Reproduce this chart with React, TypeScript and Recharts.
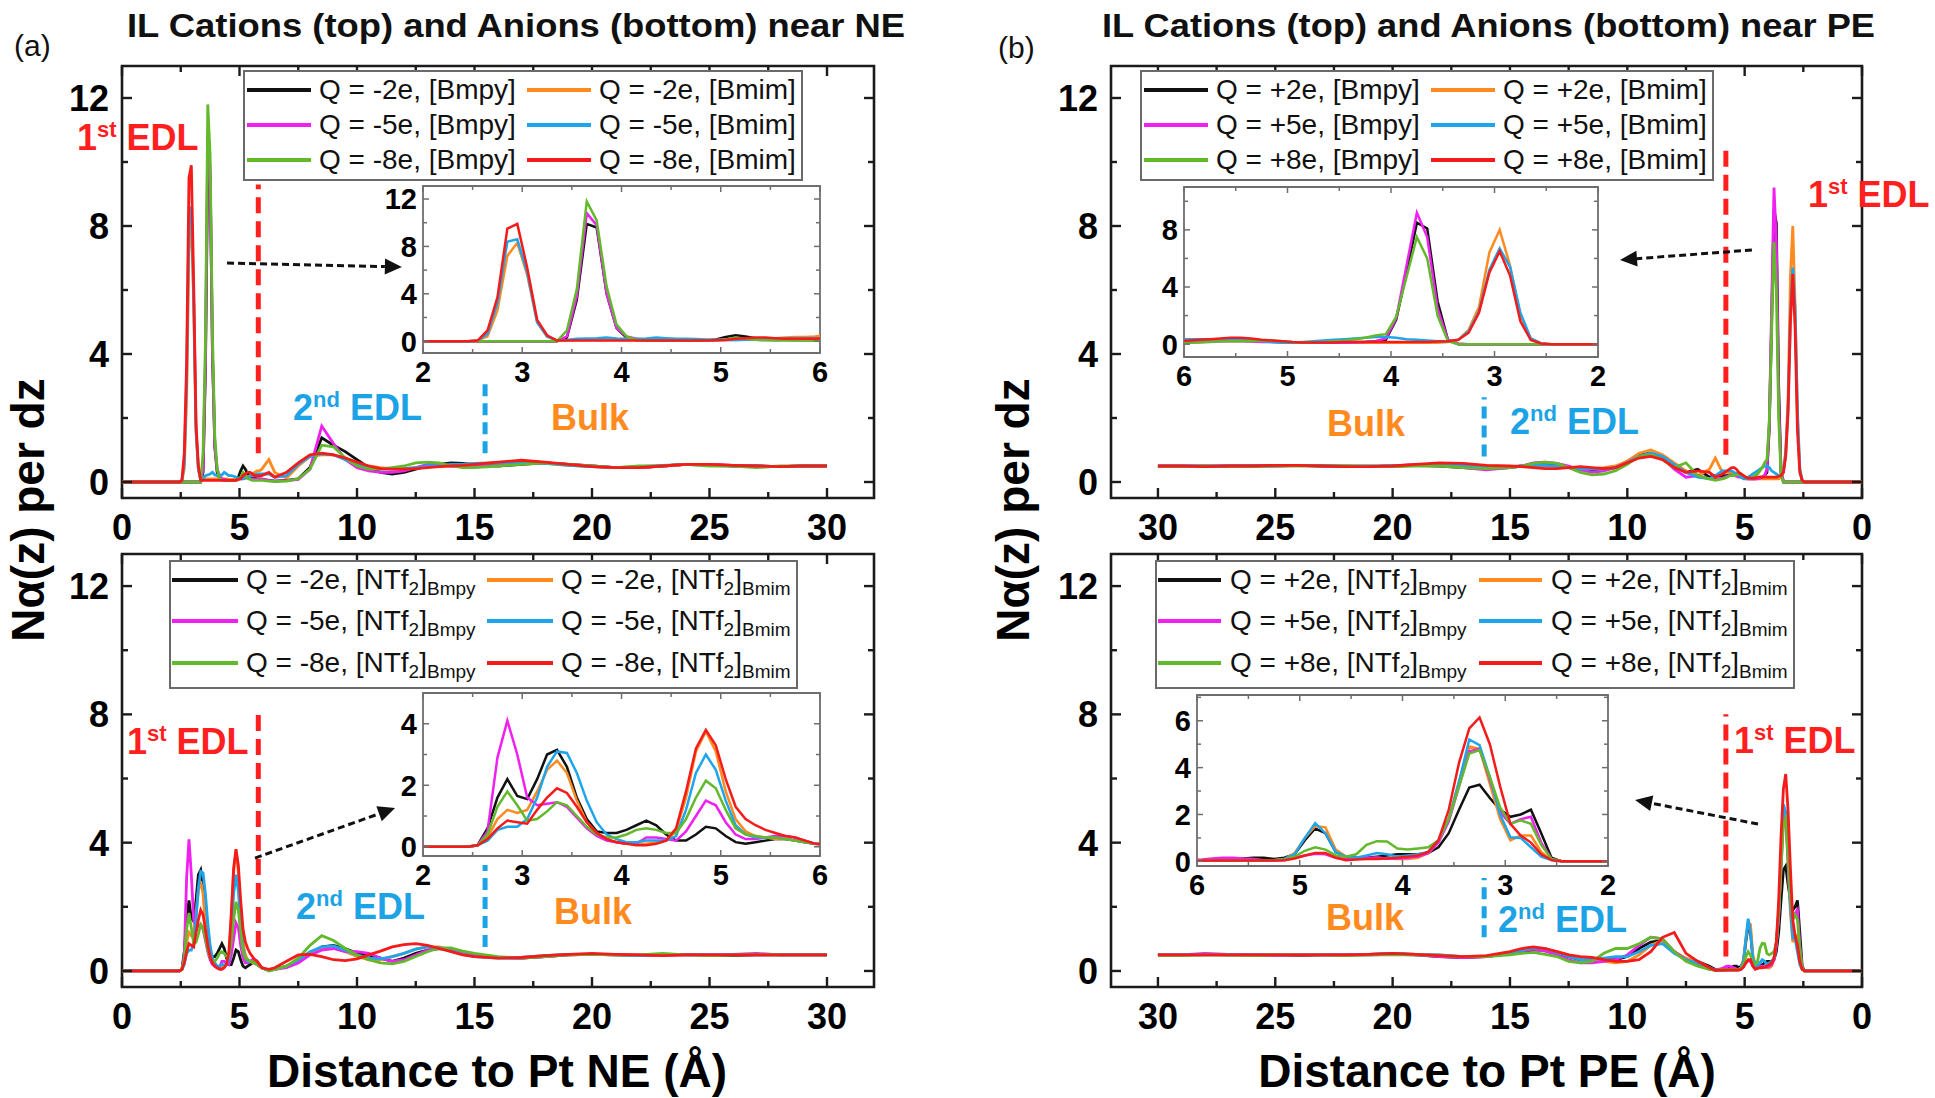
import React from 'react';
import { LineChart, Line, XAxis, YAxis, ReferenceLine, ReferenceArea, Legend } from 'recharts';

const FONT = "'Liberation Sans', Arial, Helvetica, sans-serif";
const COLORS = ['#111111', '#FF8A1F', '#F020F0', '#1EA5EC', '#63B92C', '#F51B1B'];

// distance grid (Å)
const distance = [
  0, 2.45,
  2.55, 2.65, 2.75, 2.85, 2.95,
  3.05, 3.15, 3.25, 3.35, 3.45, 3.55, 3.65, 3.75, 3.85, 3.95,
  4.05, 4.15, 4.25, 4.35, 4.45, 4.55, 4.65, 4.75, 4.85, 4.95,
  5.05, 5.15, 5.25, 5.35, 5.45, 5.55, 5.65, 5.75, 5.85, 5.95,
  6.25, 6.5,
  7, 7.5, 8, 8.5, 9, 9.5, 10, 10.5, 11, 11.5, 12, 12.5, 13, 13.5, 14, 14.5, 15,
  16, 17, 18, 19, 20, 21, 22, 23, 24, 25, 26, 27, 28, 29, 30,
];

// ---------- cations near NE ----------
const neCatBmpy2 = [0, 0,
  0, 0, 0, 0, 0,
  0, 0, 0, 0, 0.3, 3.5, 9.9, 9.6, 4.0, 1.1,
  0.3, 0.1, 0.08, 0.06, 0.05, 0.05, 0.05, 0.05, 0.06, 0.15,
  0.35, 0.5, 0.4, 0.25, 0.2, 0.15, 0.12, 0.1, 0.1, 0.08,
  0.05, 0.03,
  0.05, 0.1, 0.45, 1.38, 1.15, 0.95, 0.7, 0.45, 0.3, 0.25, 0.3, 0.4, 0.5, 0.55, 0.6, 0.58, 0.55,
  0.5, 0.55, 0.6, 0.55, 0.5, 0.45, 0.45, 0.5, 0.55, 0.55, 0.5, 0.5, 0.48, 0.5, 0.5];
const neCatBmim2 = [0, 0,
  0.05, 0.4, 2.6, 7.2, 8.3,
  5.6, 1.6, 0.4, 0.05, 0.08, 0.1, 0.1, 0.1, 0.1, 0.1,
  0.1, 0.1, 0.1, 0.1, 0.1, 0.08, 0.08, 0.08, 0.08, 0.1,
  0.1, 0.1, 0.12, 0.15, 0.2, 0.25, 0.3, 0.35, 0.35, 0.4,
  0.7, 0.3,
  0.12, 0.5, 0.8, 0.85, 0.85, 0.75, 0.6, 0.5, 0.45, 0.42, 0.42, 0.45, 0.48, 0.5, 0.52, 0.55, 0.58,
  0.6, 0.62, 0.58, 0.52, 0.48, 0.45, 0.45, 0.5, 0.55, 0.55, 0.52, 0.5, 0.48, 0.5, 0.5];
const neCatBmpy5 = [0, 0,
  0, 0, 0, 0, 0,
  0, 0, 0, 0, 0.4, 3.8, 10.8, 9.8, 4.0, 1.1,
  0.4, 0.2, 0.1, 0.08, 0.06, 0.05, 0.05, 0.05, 0.06, 0.08,
  0.12, 0.2, 0.15, 0.12, 0.1, 0.1, 0.1, 0.1, 0.1, 0.1,
  0.05, 0.03,
  0.04, 0.08, 0.4, 1.75, 1.2, 0.7, 0.45, 0.35, 0.3, 0.3, 0.35, 0.45, 0.55, 0.55, 0.5, 0.5, 0.5,
  0.52, 0.58, 0.6, 0.55, 0.5, 0.45, 0.45, 0.5, 0.55, 0.55, 0.52, 0.5, 0.48, 0.5, 0.5];
const neCatBmim5 = [0, 0,
  0.05, 0.6, 3.2, 8.4, 8.6,
  5.8, 1.6, 0.4, 0.05, 0.1, 0.2, 0.22, 0.25, 0.3, 0.22,
  0.2, 0.2, 0.22, 0.3, 0.25, 0.2, 0.2, 0.18, 0.15, 0.12,
  0.1, 0.1, 0.12, 0.15, 0.18, 0.2, 0.22, 0.25, 0.25, 0.25,
  0.25, 0.15,
  0.2, 0.55, 0.8, 0.88, 0.85, 0.7, 0.55, 0.45, 0.4, 0.4, 0.42, 0.45, 0.5, 0.52, 0.55, 0.55, 0.58,
  0.6, 0.6, 0.58, 0.52, 0.48, 0.45, 0.48, 0.52, 0.55, 0.52, 0.5, 0.5, 0.48, 0.5, 0.5];
const neCatBmpy8 = [0, 0,
  0, 0, 0, 0, 0,
  0, 0, 0, 0, 0.9, 4.4, 11.8, 10.2, 4.6, 1.4,
  0.4, 0.1, 0.06, 0.05, 0.05, 0.05, 0.05, 0.05, 0.05, 0.08,
  0.15, 0.3, 0.2, 0.12, 0.08, 0.05, 0.05, 0.05, 0.05, 0.05,
  0.03, 0.02,
  0.03, 0.1, 0.4, 1.15, 1.1, 0.75, 0.5, 0.4, 0.4, 0.45, 0.5, 0.6, 0.62, 0.6, 0.5, 0.45, 0.45,
  0.5, 0.55, 0.6, 0.55, 0.5, 0.45, 0.5, 0.5, 0.55, 0.5, 0.5, 0.45, 0.5, 0.5, 0.5];
const neCatBmim8 = [0, 0,
  0.05, 0.9, 3.7, 9.5, 9.9,
  6.2, 1.8, 0.5, 0.05, 0.05, 0.05, 0.05, 0.05, 0.05, 0.05,
  0.05, 0.05, 0.05, 0.05, 0.05, 0.05, 0.05, 0.05, 0.05, 0.08,
  0.1, 0.2, 0.25, 0.3, 0.3, 0.25, 0.2, 0.2, 0.2, 0.2,
  0.3, 0.15,
  0.3, 0.6, 0.85, 0.9, 0.85, 0.75, 0.62, 0.5, 0.42, 0.4, 0.4, 0.42, 0.45, 0.48, 0.5, 0.52, 0.55,
  0.62, 0.68, 0.62, 0.55, 0.48, 0.45, 0.45, 0.5, 0.55, 0.55, 0.52, 0.5, 0.48, 0.5, 0.5];

// ---------- anions near NE ----------
const neAniBmpy2 = [0, 0,
  0.05, 0.6, 1.6, 2.2, 1.65,
  1.55, 2.2, 3.0, 3.15, 2.6, 1.6, 0.9, 0.5, 0.45, 0.45,
  0.55, 0.7, 0.85, 0.7, 0.4, 0.2, 0.2, 0.4, 0.65, 0.6,
  0.35, 0.15, 0.1, 0.15, 0.2, 0.25, 0.25, 0.2, 0.15, 0.1,
  0.02, 0.05,
  0.15, 0.3, 0.55, 0.75, 0.8, 0.7, 0.55, 0.5, 0.4, 0.3, 0.4, 0.55, 0.65, 0.7, 0.65, 0.55, 0.5,
  0.42, 0.4, 0.45, 0.5, 0.52, 0.5, 0.48, 0.5, 0.52, 0.5, 0.48, 0.5, 0.5, 0.5, 0.5];
const neAniBmim2 = [0, 0,
  0.05, 0.3, 0.9, 1.2, 1.1,
  1.2, 1.8, 2.5, 2.8, 2.4, 1.5, 0.8, 0.45, 0.25, 0.15,
  0.1, 0.1, 0.1, 0.15, 0.2, 0.5, 1.6, 3.1, 3.75, 3.1,
  1.8, 0.9, 0.5, 0.35, 0.3, 0.25, 0.25, 0.2, 0.15, 0.1,
  0.02, 0.05,
  0.15, 0.35, 0.55, 0.7, 0.72, 0.6, 0.45, 0.35, 0.35, 0.45, 0.55, 0.68, 0.75, 0.75, 0.65, 0.55, 0.48,
  0.42, 0.42, 0.48, 0.52, 0.52, 0.5, 0.48, 0.5, 0.5, 0.5, 0.5, 0.5, 0.5, 0.5, 0.5];
const neAniBmpy5 = [0, 0,
  0.05, 0.5, 2.9, 4.1, 3.0,
  1.6, 1.35, 1.4, 1.45, 1.3, 0.95, 0.6, 0.35, 0.2, 0.15,
  0.1, 0.1, 0.3, 0.3, 0.25, 0.2, 0.5, 1.0, 1.5, 1.35,
  0.8, 0.4, 0.25, 0.25, 0.3, 0.35, 0.35, 0.3, 0.2, 0.1,
  0.02, 0.05,
  0.1, 0.25, 0.5, 0.65, 0.7, 0.6, 0.6, 0.55, 0.4, 0.3, 0.35, 0.5, 0.65, 0.72, 0.68, 0.6, 0.5,
  0.42, 0.4, 0.45, 0.5, 0.52, 0.52, 0.5, 0.5, 0.5, 0.5, 0.52, 0.55, 0.5, 0.5, 0.5];
const neAniBmim5 = [0, 0,
  0.05, 0.2, 0.55, 0.65, 0.65,
  0.9, 1.6, 2.6, 3.1, 3.05, 2.4, 1.5, 0.8, 0.4, 0.25,
  0.15, 0.15, 0.2, 0.2, 0.2, 0.35, 1.2, 2.4, 3.0, 2.5,
  1.5, 0.7, 0.4, 0.3, 0.3, 0.3, 0.25, 0.2, 0.15, 0.1,
  0.02, 0.05,
  0.15, 0.35, 0.6, 0.75, 0.78, 0.65, 0.5, 0.4, 0.38, 0.45, 0.55, 0.68, 0.75, 0.72, 0.62, 0.52, 0.45,
  0.4, 0.42, 0.48, 0.52, 0.52, 0.5, 0.48, 0.5, 0.5, 0.5, 0.5, 0.5, 0.5, 0.5, 0.5];
const neAniBmpy8 = [0, 0,
  0.05, 0.4, 1.3, 1.8, 1.35,
  0.85, 0.9, 1.15, 1.45, 1.35, 1.0, 0.65, 0.4, 0.3, 0.3,
  0.4, 0.55, 0.6, 0.55, 0.45, 0.45, 0.9, 1.6, 2.15, 1.9,
  1.2, 0.6, 0.4, 0.35, 0.3, 0.3, 0.25, 0.2, 0.15, 0.1,
  0.0, 0.05,
  0.15, 0.4, 0.8, 1.1, 0.95, 0.7, 0.5, 0.35, 0.25, 0.22, 0.3, 0.45, 0.6, 0.72, 0.72, 0.62, 0.55,
  0.45, 0.4, 0.45, 0.5, 0.52, 0.5, 0.5, 0.55, 0.5, 0.48, 0.5, 0.52, 0.5, 0.5, 0.5];
const neAniBmim8 = [0, 0,
  0.05, 0.25, 0.6, 0.85, 0.8,
  0.75, 1.2, 1.6, 1.9, 1.75, 1.3, 0.8, 0.45, 0.25, 0.15,
  0.1, 0.05, 0.05, 0.1, 0.2, 0.6, 1.8, 3.2, 3.8, 3.3,
  2.2, 1.3, 0.9, 0.7, 0.55, 0.45, 0.35, 0.3, 0.2, 0.1,
  0.05, 0.1,
  0.3, 0.5, 0.52, 0.45, 0.35, 0.32, 0.38, 0.5, 0.62, 0.75, 0.82, 0.85, 0.8, 0.7, 0.6, 0.5, 0.45,
  0.4, 0.42, 0.48, 0.52, 0.55, 0.52, 0.5, 0.48, 0.5, 0.5, 0.5, 0.5, 0.5, 0.5, 0.5];

// ---------- cations near PE ----------
const peCatBmpy2 = [0, 0,
  0, 0, 0, 0, 0,
  0, 0, 0, 0, 0.3, 3.0, 8.1, 8.5, 5.0, 1.7,
  0.3, 0.2, 0.15, 0.15, 0.12, 0.1, 0.1, 0.1, 0.1, 0.12,
  0.15, 0.2, 0.25, 0.25, 0.25, 0.25, 0.22, 0.2, 0.2, 0.2,
  0.2, 0.15,
  0.4, 0.3, 0.5, 0.75, 0.9, 0.85, 0.65, 0.45, 0.4, 0.38, 0.4, 0.45, 0.5, 0.55, 0.55, 0.5, 0.45,
  0.42, 0.45, 0.5, 0.52, 0.5, 0.48, 0.48, 0.5, 0.52, 0.52, 0.5, 0.5, 0.48, 0.48, 0.48];
const peCatBmim2 = [0, 0,
  0.05, 0.4, 2.0, 5.5, 8.0,
  6.4, 2.6, 1.0, 0.3, 0.15, 0.1, 0.1, 0.1, 0.1, 0.1,
  0.1, 0.1, 0.1, 0.1, 0.1, 0.1, 0.1, 0.12, 0.12, 0.12,
  0.15, 0.15, 0.18, 0.2, 0.25, 0.3, 0.3, 0.3, 0.3, 0.3,
  0.75, 0.4,
  0.2, 0.35, 0.6, 0.85, 1.0, 0.9, 0.65, 0.5, 0.45, 0.42, 0.42, 0.45, 0.48, 0.5, 0.5, 0.5, 0.48,
  0.5, 0.52, 0.55, 0.52, 0.5, 0.5, 0.5, 0.52, 0.52, 0.52, 0.5, 0.5, 0.5, 0.5, 0.5];
const peCatBmpy5 = [0, 0,
  0, 0, 0, 0, 0,
  0, 0, 0, 0.05, 0.3, 2.5, 7.5, 9.2, 5.5, 1.8,
  0.4, 0.2, 0.15, 0.12, 0.1, 0.1, 0.1, 0.1, 0.1, 0.1,
  0.12, 0.15, 0.15, 0.18, 0.2, 0.2, 0.2, 0.18, 0.15, 0.12,
  0.1, 0.1,
  0.2, 0.15, 0.4, 0.75, 0.9, 0.8, 0.6, 0.45, 0.35, 0.3, 0.38, 0.5, 0.58, 0.62, 0.6, 0.5, 0.45,
  0.38, 0.45, 0.52, 0.55, 0.5, 0.48, 0.48, 0.5, 0.52, 0.5, 0.5, 0.5, 0.5, 0.5, 0.5];
const peCatBmim5 = [0, 0,
  0.05, 0.4, 2.2, 5.4, 6.7,
  5.2, 2.3, 0.9, 0.3, 0.2, 0.2, 0.25, 0.3, 0.35, 0.45,
  0.5, 0.5, 0.45, 0.4, 0.35, 0.3, 0.25, 0.2, 0.15, 0.1,
  0.1, 0.15, 0.2, 0.25, 0.3, 0.35, 0.35, 0.35, 0.35, 0.35,
  0.2, 0.1,
  0.15, 0.3, 0.55, 0.8, 0.9, 0.8, 0.6, 0.45, 0.4, 0.4, 0.42, 0.45, 0.5, 0.52, 0.52, 0.5, 0.48,
  0.48, 0.52, 0.55, 0.52, 0.5, 0.5, 0.5, 0.52, 0.52, 0.5, 0.5, 0.5, 0.5, 0.5, 0.5];
const peCatBmpy8 = [0, 0,
  0, 0, 0, 0, 0,
  0, 0, 0, 0, 0.2, 2.0, 6.0, 7.5, 4.7, 1.9,
  0.7, 0.6, 0.45, 0.35, 0.25, 0.2, 0.15, 0.12, 0.12, 0.15,
  0.2, 0.25, 0.25, 0.22, 0.2, 0.2, 0.2, 0.15, 0.12, 0.1,
  0.05, 0.1,
  0.2, 0.6, 0.45, 0.7, 0.85, 0.8, 0.55, 0.35, 0.25, 0.22, 0.3, 0.45, 0.58, 0.62, 0.58, 0.5, 0.45,
  0.42, 0.45, 0.5, 0.5, 0.48, 0.48, 0.5, 0.5, 0.5, 0.5, 0.48, 0.48, 0.5, 0.48, 0.48];
const peCatBmim8 = [0, 0,
  0.05, 0.3, 1.6, 4.8, 6.5,
  5.0, 2.2, 0.8, 0.3, 0.2, 0.18, 0.15, 0.15, 0.15, 0.15,
  0.15, 0.15, 0.15, 0.15, 0.15, 0.12, 0.12, 0.12, 0.12, 0.15,
  0.2, 0.25, 0.3, 0.4, 0.45, 0.45, 0.4, 0.35, 0.3, 0.25,
  0.15, 0.3,
  0.35, 0.3, 0.45, 0.7, 0.8, 0.75, 0.6, 0.45, 0.42, 0.45, 0.48, 0.45, 0.42, 0.42, 0.45, 0.48, 0.5,
  0.52, 0.58, 0.6, 0.55, 0.5, 0.48, 0.48, 0.5, 0.52, 0.52, 0.5, 0.5, 0.48, 0.5, 0.5];

// ---------- anions near PE ----------
const peAniBmpy2 = [0, 0,
  0.15, 1.2, 2.2, 2.0, 1.9,
  2.2, 2.7, 3.27, 3.15, 2.2, 1.2, 0.6, 0.35, 0.3, 0.3,
  0.3, 0.25, 0.2, 0.15, 0.15, 0.2, 0.4, 1.2, 1.4, 0.9,
  0.3, 0.15, 0.1, 0.15, 0.15, 0.12, 0.1, 0.05, 0.03, 0.02,
  0.05, 0.15,
  0.3, 0.35, 0.6, 0.95, 0.9, 0.7, 0.45, 0.35, 0.35, 0.35, 0.35, 0.45, 0.55, 0.65, 0.65, 0.6, 0.55,
  0.45, 0.42, 0.45, 0.5, 0.52, 0.5, 0.5, 0.5, 0.48, 0.5, 0.5, 0.5, 0.52, 0.5, 0.5];
const peAniBmim2 = [0, 0,
  0.05, 0.4, 1.1, 1.1, 0.9,
  1.8, 3.3, 4.8, 4.9, 3.4, 1.8, 0.8, 0.35, 0.15, 0.1,
  0.1, 0.12, 0.15, 0.12, 0.1, 0.2, 0.5, 1.45, 1.5, 1.0,
  0.35, 0.1, 0.05, 0.03, 0.03, 0.03, 0.03, 0.03, 0.03, 0.03,
  0.02, 0.1,
  0.3, 0.4, 0.6, 0.95, 0.8, 0.5, 0.3, 0.25, 0.3, 0.35, 0.4, 0.5, 0.6, 0.68, 0.7, 0.65, 0.55,
  0.45, 0.45, 0.5, 0.52, 0.55, 0.52, 0.5, 0.5, 0.5, 0.5, 0.5, 0.5, 0.5, 0.5, 0.5];
const peAniBmpy5 = [0, 0,
  0.1, 0.8, 1.9, 1.8, 1.6,
  2.1, 3.5, 4.8, 4.7, 3.2, 1.7, 0.8, 0.35, 0.2, 0.15,
  0.12, 0.12, 0.15, 0.15, 0.12, 0.1, 0.15, 0.3, 0.32, 0.25,
  0.15, 0.05, 0.03, 0.05, 0.1, 0.12, 0.15, 0.15, 0.12, 0.08,
  0.03, 0.05,
  0.2, 0.35, 0.6, 1.0, 1.05, 0.8, 0.5, 0.35, 0.3, 0.25, 0.25, 0.35, 0.5, 0.62, 0.68, 0.62, 0.55,
  0.45, 0.42, 0.45, 0.5, 0.55, 0.52, 0.5, 0.5, 0.5, 0.48, 0.5, 0.52, 0.55, 0.5, 0.5];
const peAniBmim5 = [0, 0,
  0.05, 0.2, 0.6, 1.0, 1.03,
  2.0, 3.6, 4.96, 5.2, 3.4, 1.8, 0.9, 0.4, 0.3, 0.25,
  0.2, 0.3, 0.35, 0.25, 0.15, 0.2, 0.4, 1.2, 1.63, 1.0,
  0.3, 0.1, 0.05, 0.03, 0.03, 0.03, 0.03, 0.03, 0.03, 0.03,
  0.02, 0.1,
  0.25, 0.35, 0.55, 0.85, 0.8, 0.6, 0.45, 0.45, 0.4, 0.35, 0.35, 0.45, 0.58, 0.7, 0.72, 0.65, 0.55,
  0.45, 0.45, 0.5, 0.52, 0.55, 0.52, 0.5, 0.5, 0.5, 0.5, 0.5, 0.5, 0.5, 0.5, 0.5];
const peAniBmpy8 = [0, 0,
  0.1, 0.7, 1.6, 1.75, 1.6,
  2.3, 3.6, 4.75, 4.6, 3.2, 1.8, 0.9, 0.6, 0.55, 0.5,
  0.55, 0.85, 0.86, 0.7, 0.3, 0.2, 0.25, 0.5, 0.6, 0.45,
  0.2, 0.08, 0.05, 0.05, 0.05, 0.05, 0.05, 0.05, 0.05, 0.05,
  0.02, 0.05,
  0.15, 0.3, 0.6, 1.0, 1.05, 0.85, 0.7, 0.7, 0.55, 0.3, 0.25, 0.3, 0.45, 0.52, 0.58, 0.55, 0.5,
  0.45, 0.45, 0.48, 0.5, 0.5, 0.5, 0.48, 0.5, 0.5, 0.5, 0.48, 0.5, 0.5, 0.48, 0.48];
const peAniBmim8 = [0, 0,
  0.05, 0.3, 0.8, 1.1, 1.6,
  3.2, 5.0, 6.14, 5.67, 4.2, 2.2, 0.9, 0.4, 0.25, 0.2,
  0.15, 0.12, 0.1, 0.1, 0.08, 0.05, 0.15, 0.35, 0.35, 0.25,
  0.12, 0.05, 0.03, 0.03, 0.03, 0.03, 0.03, 0.03, 0.03, 0.03,
  0.02, 0.1,
  0.3, 0.55, 1.2, 1.05, 0.6, 0.35, 0.3, 0.3, 0.35, 0.42, 0.45, 0.5, 0.6, 0.7, 0.75, 0.7, 0.6,
  0.48, 0.45, 0.48, 0.52, 0.55, 0.52, 0.5, 0.5, 0.5, 0.5, 0.5, 0.5, 0.5, 0.5, 0.5];

// ---------- legend labels ----------
const neCatNames = ['Q = -2e, [Bmpy]', 'Q = -2e, [Bmim]', 'Q = -5e, [Bmpy]', 'Q = -5e, [Bmim]', 'Q = -8e, [Bmpy]', 'Q = -8e, [Bmim]'];
const neAniNames = ['Q = -2e, [NTf2]Bmpy', 'Q = -2e, [NTf2]Bmim', 'Q = -5e, [NTf2]Bmpy', 'Q = -5e, [NTf2]Bmim', 'Q = -8e, [NTf2]Bmpy', 'Q = -8e, [NTf2]Bmim'];
const peCatNames = ['Q = +2e, [Bmpy]', 'Q = +2e, [Bmim]', 'Q = +5e, [Bmpy]', 'Q = +5e, [Bmim]', 'Q = +8e, [Bmpy]', 'Q = +8e, [Bmim]'];
const peAniNames = ['Q = +2e, [NTf2]Bmpy', 'Q = +2e, [NTf2]Bmim', 'Q = +5e, [NTf2]Bmpy', 'Q = +5e, [NTf2]Bmim', 'Q = +8e, [NTf2]Bmpy', 'Q = +8e, [NTf2]Bmim'];

// ---------- ticks ----------
const mainXTicks = [0, 2.5, 5, 7.5, 10, 12.5, 15, 17.5, 20, 22.5, 25, 27.5, 30];
const mainXMajor = [0, 5, 10, 15, 20, 25, 30];
const mainYTicks = [0, 2, 4, 6, 8, 10, 12];
const mainYMajor = [0, 4, 8, 12];
const insetXTicks = [2, 2.5, 3, 3.5, 4, 4.5, 5, 5.5, 6];
const insetXMajor = [2, 3, 4, 5, 6];
const insetNeCatY = [0, 2, 4, 6, 8, 10, 12];
const insetNeCatYMajor = [0, 4, 8, 12];
const insetNeAniY = [0, 1, 2, 3, 4];
const insetNeAniYMajor = [0, 2, 4];
const insetPeCatY = [0, 2, 4, 6, 8, 10];
const insetPeCatYMajor = [0, 4, 8];
const insetPeAniY = [0, 1, 2, 3, 4, 5, 6, 7];
const insetPeAniYMajor = [0, 2, 4, 6];

function buildRows(series: number[][]) {
  return distance.map((d, i) => {
    const row: Record<string, number> = { d };
    series.forEach((s, k) => {
      row['s' + k] = s[i];
    });
    return row;
  });
}

const neCatRows = buildRows([neCatBmpy2, neCatBmim2, neCatBmpy5, neCatBmim5, neCatBmpy8, neCatBmim8]);
const neAniRows = buildRows([neAniBmpy2, neAniBmim2, neAniBmpy5, neAniBmim5, neAniBmpy8, neAniBmim8]);
const peCatRows = buildRows([peCatBmpy2, peCatBmim2, peCatBmpy5, peCatBmim5, peCatBmpy8, peCatBmim8]);
const peAniRows = buildRows([peAniBmpy2, peAniBmim2, peAniBmpy5, peAniBmim5, peAniBmpy8, peAniBmim8]);

type Frame = { x: number; y: number; w: number; h: number };
type LegendCfg = { box: Frame; cols: number[]; rows: number[]; lineLen: number; gap: number };
type Style = {
  frameStroke: string; frameWidth: number; tickStroke: string; tickWidth: number;
  majorLen: number; minorLen: number; font: number; xLabelDy: number; yLabelDx: number; lineWidth: number;
};

const PADL = 90, PADR = 24, PADT = 24, PADB = 64, YW = 80, XH = 54;

const MAIN_STYLE: Style = {
  frameStroke: '#1b1b1b', frameWidth: 2.6, tickStroke: '#1b1b1b', tickWidth: 2.4,
  majorLen: 10, minorLen: 6, font: 36, xLabelDy: 42, yLabelDx: 13, lineWidth: 2.8,
};
const INSET_STYLE: Style = {
  frameStroke: '#6e6e6e', frameWidth: 1.8, tickStroke: '#6e6e6e', tickWidth: 1.5,
  majorLen: 6, minorLen: 4, font: 29, xLabelDy: 29, yLabelDx: 6, lineWidth: 2.5,
};

const subStyle: React.CSSProperties = { fontSize: 19, verticalAlign: '-0.3em', lineHeight: 0 };

function formatLabel(n: string) {
  const m = n.match(/^(.*\[NTf)2\](.+)$/);
  if (!m) return n;
  return (
    <>
      {m[1]}
      <sub style={subStyle}>2</sub>]
      <sub style={subStyle}>{m[2]}</sub>
    </>
  );
}

function LegendBox({ cfg, names, payload }: { cfg: LegendCfg; names: string[]; payload: any[] }) {
  const B = 2;
  return (
    <div
      style={{
        position: 'relative', width: cfg.box.w, height: cfg.box.h, boxSizing: 'border-box',
        border: `${B}px solid #6a6a6a`, background: '#fff',
      }}
    >
      {names.map((n, i) => {
        const entry = (payload || []).find((e: any) => e.value === n);
        const color = entry && entry.color ? entry.color : COLORS[i];
        const col = i % 2;
        const row = Math.floor(i / 2);
        return (
          <div
            key={n}
            style={{
              position: 'absolute', left: cfg.cols[col] - cfg.box.x - B, top: cfg.rows[row] - cfg.box.y - B - 20,
              height: 40, display: 'flex', alignItems: 'center', whiteSpace: 'nowrap',
            }}
          >
            <div style={{ width: cfg.lineLen, height: 3.5, background: color }} />
            <span style={{ marginLeft: cfg.gap, fontFamily: FONT, fontSize: 28, lineHeight: '40px', color: '#111' }}>
              {formatLabel(n)}
            </span>
          </div>
        );
      })}
    </div>
  );
}

const ArrowShape = (p: any) => {
  const { x1, y1, x2, y2 } = p;
  const ang = Math.atan2(y2 - y1, x2 - x1);
  const L = 17;
  const Wd = 8;
  const bx = x2 - L * Math.cos(ang);
  const by = y2 - L * Math.sin(ang);
  const nx = -Math.sin(ang);
  const ny = Math.cos(ang);
  return (
    <g>
      <line x1={x1} y1={y1} x2={bx} y2={by} stroke="#111" strokeWidth={3} strokeDasharray="7 4" />
      <polygon points={`${x2},${y2} ${bx + nx * Wd},${by + ny * Wd} ${bx - nx * Wd},${by - ny * Wd}`} fill="#111" />
    </g>
  );
};

type PlotProps = {
  frame: Frame; rows: any[]; names: string[];
  xDomain: [number, number]; yDomain: [number, number];
  xTicks: number[]; xMajor: number[]; yTicks: number[]; yMajor: number[];
  reversed?: boolean; st: Style; legend?: LegendCfg; children?: React.ReactNode;
};

function Plot({ frame, rows, names, xDomain, yDomain, xTicks, xMajor, yTicks, yMajor, reversed, st, legend, children }: PlotProps) {
  const W = frame.w + PADL + PADR;
  const H = frame.h + PADT + PADB;
  const top = PADT;
  const right = PADL + frame.w;

  const xTick = (p: any) => {
    const { x, y, payload } = p;
    const v = payload.value;
    const major = xMajor.includes(v);
    const len = major ? st.majorLen : st.minorLen;
    return (
      <g>
        <line x1={x} x2={x} y1={y} y2={y - len} stroke={st.tickStroke} strokeWidth={st.tickWidth} />
        <line x1={x} x2={x} y1={top} y2={top + len} stroke={st.tickStroke} strokeWidth={st.tickWidth} />
        {major ? (
          <text x={x} y={y + st.xLabelDy} textAnchor="middle" fontFamily={FONT} fontWeight="bold" fontSize={st.font} fill="#000">
            {v}
          </text>
        ) : null}
      </g>
    );
  };
  const yTick = (p: any) => {
    const { x, y, payload } = p;
    const v = payload.value;
    const major = yMajor.includes(v);
    const len = major ? st.majorLen : st.minorLen;
    return (
      <g>
        <line x1={x} x2={x + len} y1={y} y2={y} stroke={st.tickStroke} strokeWidth={st.tickWidth} />
        <line x1={right} x2={right - len} y1={y} y2={y} stroke={st.tickStroke} strokeWidth={st.tickWidth} />
        {major ? (
          <text x={x - st.yLabelDx} y={y + st.font * 0.36} textAnchor="end" fontFamily={FONT} fontWeight="bold" fontSize={st.font} fill="#000">
            {v}
          </text>
        ) : null}
      </g>
    );
  };

  return (
    <div style={{ position: 'absolute', left: frame.x - PADL, top: frame.y - PADT, width: W, height: H }}>
      <LineChart width={W} height={H} data={rows} margin={{ top: PADT, right: PADR, bottom: PADB - XH, left: PADL - YW }}>
        <XAxis
          dataKey="d" type="number" domain={xDomain} ticks={xTicks} interval={0} reversed={reversed}
          allowDataOverflow height={XH} axisLine={false} tickLine={false} tickSize={0} tickMargin={0} tick={xTick}
        />
        <YAxis
          type="number" domain={yDomain} ticks={yTicks} interval={0} allowDataOverflow width={YW}
          axisLine={false} tickLine={false} tickSize={0} tickMargin={0} tick={yTick}
        />
        <ReferenceArea
          x1={xDomain[0]} x2={xDomain[1]} y1={yDomain[0]} y2={yDomain[1]}
          fill="none" fillOpacity={0} stroke={st.frameStroke} strokeWidth={st.frameWidth} strokeOpacity={1}
        />
        {children}
        {names.map((n, i) => (
          <Line
            key={n} dataKey={'s' + i} name={n} type="linear" stroke={COLORS[i]} strokeWidth={st.lineWidth}
            dot={false} activeDot={false} isAnimationActive={false}
          />
        ))}
        {legend ? (
          <Legend
            layout="horizontal" verticalAlign="middle" align="center"
            wrapperStyle={{
              position: 'absolute', left: legend.box.x - (frame.x - PADL), top: legend.box.y - (frame.y - PADT),
              width: legend.box.w, height: legend.box.h, margin: 0, padding: 0,
            }}
            content={(p: any) => <LegendBox cfg={legend} names={names} payload={p.payload} />}
          />
        ) : null}
      </LineChart>
    </div>
  );
}

const RED = '#FF1F1F';
const BLUE = '#1BA3E6';
const ORANGE = '#FF8A1E';

function vDash(x: number, y1: number, y2: number, color: string, dash: string, key: string) {
  return (
    <ReferenceLine key={key} segment={[{ x, y: y1 }, { x, y: y2 }]} stroke={color} strokeWidth={5} strokeDasharray={dash} />
  );
}
function arrow(p1: [number, number], p2: [number, number], key: string) {
  return <ReferenceLine key={key} segment={[{ x: p1[0], y: p1[1] }, { x: p2[0], y: p2[1] }]} shape={ArrowShape} />;
}

function EdlLabel({ x, y, num, sup, color }: { x: number; y: number; num: string; sup: string; color: string }) {
  return (
    <text x={x} y={y} fontFamily={FONT} fontWeight="bold" fontSize={36} fill={color} style={{ whiteSpace: 'pre' }}>
      {num}
      <tspan fontSize={22} dy={-13}>{sup}</tspan>
      <tspan dy={13}>{' EDL'}</tspan>
    </text>
  );
}

function BulkLabel({ x, y }: { x: number; y: number }) {
  return (
    <text x={x} y={y} fontFamily={FONT} fontWeight="bold" fontSize={36} fill={ORANGE}>
      Bulk
    </text>
  );
}

const aTop: Frame = { x: 122, y: 66, w: 752, h: 432 };
const aBot: Frame = { x: 122, y: 554, w: 752, h: 433 };
const bTop: Frame = { x: 1111, y: 66, w: 751, h: 432 };
const bBot: Frame = { x: 1111, y: 554, w: 751, h: 433 };

const aTopInset: Frame = { x: 423, y: 186, w: 397, h: 167 };
const aBotInset: Frame = { x: 423, y: 693, w: 397, h: 163 };
const bTopInset: Frame = { x: 1184, y: 187, w: 414, h: 170 };
const bBotInset: Frame = { x: 1197, y: 695, w: 411, h: 171 };

const legATop: LegendCfg = { box: { x: 243, y: 70, w: 560, h: 111 }, cols: [247, 527], rows: [90, 125, 160], lineLen: 64, gap: 8 };
const legABot: LegendCfg = { box: { x: 169, y: 560, w: 629, h: 129 }, cols: [172, 487], rows: [580, 621, 663], lineLen: 66, gap: 8 };
const legBTop: LegendCfg = { box: { x: 1140, y: 70, w: 574, h: 111 }, cols: [1144, 1431], rows: [90, 125, 160], lineLen: 64, gap: 8 };
const legBBot: LegendCfg = { box: { x: 1155, y: 560, w: 640, h: 129 }, cols: [1158, 1479], rows: [580, 621, 663], lineLen: 63, gap: 9 };

export default function App() {
  return (
    <div style={{ position: 'absolute', left: 0, top: 0, width: 1935, height: 1098, background: '#fff', overflow: 'hidden' }}>
      {/* (a) top: cations near NE */}
      <Plot frame={aTop} rows={neCatRows} names={neCatNames} xDomain={[0, 32]} yDomain={[-0.5, 13]}
        xTicks={mainXTicks} xMajor={mainXMajor} yTicks={mainYTicks} yMajor={mainYMajor} st={MAIN_STYLE} legend={legATop}>
        {vDash(5.8, 0.9, 9.3, RED, '16 8', 'r1')}
        {vDash(15.45, 0.9, 3.2, BLUE, '12 7', 'b1')}
        {arrow([4.47, 6.84], [11.91, 6.72], 'a1')}
      </Plot>
      {/* (a) bottom: anions near NE */}
      <Plot frame={aBot} rows={neAniRows} names={neAniNames} xDomain={[0, 32]} yDomain={[-0.5, 13]}
        xTicks={mainXTicks} xMajor={mainXMajor} yTicks={mainYTicks} yMajor={mainYMajor} st={MAIN_STYLE} legend={legABot}>
        {vDash(5.8, 0.75, 8.2, RED, '16 8', 'r2')}
        {vDash(15.45, 0.75, 3.3, BLUE, '12 7', 'b2')}
        {arrow([5.66, 3.52], [11.62, 5.08], 'a2')}
      </Plot>
      {/* (b) top: cations near PE */}
      <Plot frame={bTop} rows={peCatRows} names={peCatNames} xDomain={[0, 32]} yDomain={[-0.5, 13]} reversed
        xTicks={mainXTicks} xMajor={mainXMajor} yTicks={mainYTicks} yMajor={mainYMajor} st={MAIN_STYLE} legend={legBTop}>
        {vDash(5.8, 0.85, 10.6, RED, '16 8', 'r3')}
        {vDash(16.1, 0.8, 2.65, BLUE, '12 7', 'b3')}
        {arrow([4.69, 7.25], [10.31, 6.94], 'a3')}
      </Plot>
      {/* (b) bottom: anions near PE */}
      <Plot frame={bBot} rows={peAniRows} names={peAniNames} xDomain={[0, 32]} yDomain={[-0.5, 13]} reversed
        xTicks={mainXTicks} xMajor={mainXMajor} yTicks={mainYTicks} yMajor={mainYMajor} st={MAIN_STYLE} legend={legBBot}>
        {vDash(5.8, 0.45, 8.0, RED, '16 8', 'r4')}
        {vDash(16.1, 1.05, 2.9, BLUE, '12 7', 'b4')}
        {arrow([4.43, 4.58], [9.67, 5.33], 'a4')}
      </Plot>

      {/* insets */}
      <Plot frame={aTopInset} rows={neCatRows} names={neCatNames} xDomain={[2, 6]} yDomain={[-1, 13.1]}
        xTicks={insetXTicks} xMajor={insetXMajor} yTicks={insetNeCatY} yMajor={insetNeCatYMajor} st={INSET_STYLE} />
      <Plot frame={aBotInset} rows={neAniRows} names={neAniNames} xDomain={[2, 6]} yDomain={[-0.3, 5]}
        xTicks={insetXTicks} xMajor={insetXMajor} yTicks={insetNeAniY} yMajor={insetNeAniYMajor} st={INSET_STYLE} />
      <Plot frame={bTopInset} rows={peCatRows} names={peCatNames} xDomain={[2, 6]} yDomain={[-0.9, 11]} reversed
        xTicks={insetXTicks} xMajor={insetXMajor} yTicks={insetPeCatY} yMajor={insetPeCatYMajor} st={INSET_STYLE} />
      <Plot frame={bBotInset} rows={peAniRows} names={peAniNames} xDomain={[2, 6]} yDomain={[-0.2, 7.1]} reversed
        xTicks={insetXTicks} xMajor={insetXMajor} yTicks={insetPeAniY} yMajor={insetPeAniYMajor} st={INSET_STYLE} />

      {/* text overlay */}
      <svg width={1935} height={1098} style={{ position: 'absolute', left: 0, top: 0, pointerEvents: 'none' }}>
        <text x={14} y={56} fontFamily={FONT} fontSize={30} fill="#111">(a)</text>
        <text x={998} y={58} fontFamily={FONT} fontSize={30} fill="#111">(b)</text>
        <text x={127} y={37} fontFamily={FONT} fontWeight="bold" fontSize={34} fill="#111" textLength={778} lengthAdjust="spacingAndGlyphs">
          IL Cations (top) and Anions (bottom) near NE
        </text>
        <text x={1102} y={37} fontFamily={FONT} fontWeight="bold" fontSize={34} fill="#111" textLength={773} lengthAdjust="spacingAndGlyphs">
          IL Cations (top) and Anions (bottom) near PE
        </text>
        <text x={497} y={1087} textAnchor="middle" fontFamily={FONT} fontWeight="bold" fontSize={46} fill="#000">
          Distance to Pt NE (Å)
        </text>
        <text x={1487} y={1087} textAnchor="middle" fontFamily={FONT} fontWeight="bold" fontSize={46} fill="#000">
          Distance to Pt PE (Å)
        </text>
        <text x={44} y={510} transform="rotate(-90 44 510)" textAnchor="middle" fontFamily={FONT} fontWeight="bold" fontSize={46} fill="#000">
          Nα(z) per dz
        </text>
        <text x={1029} y={510} transform="rotate(-90 1029 510)" textAnchor="middle" fontFamily={FONT} fontWeight="bold" fontSize={46} fill="#000">
          Nα(z) per dz
        </text>

        <EdlLabel x={77} y={150} num="1" sup="st" color={RED} />
        <EdlLabel x={293} y={420} num="2" sup="nd" color={BLUE} />
        <BulkLabel x={551} y={430} />

        <EdlLabel x={127} y={754} num="1" sup="st" color={RED} />
        <EdlLabel x={296} y={919} num="2" sup="nd" color={BLUE} />
        <BulkLabel x={554} y={924} />

        <EdlLabel x={1808} y={207} num="1" sup="st" color={RED} />
        <BulkLabel x={1327} y={436} />
        <EdlLabel x={1510} y={434} num="2" sup="nd" color={BLUE} />

        <EdlLabel x={1734} y={753} num="1" sup="st" color={RED} />
        <BulkLabel x={1326} y={930} />
        <EdlLabel x={1498} y={932} num="2" sup="nd" color={BLUE} />
      </svg>
    </div>
  );
}
